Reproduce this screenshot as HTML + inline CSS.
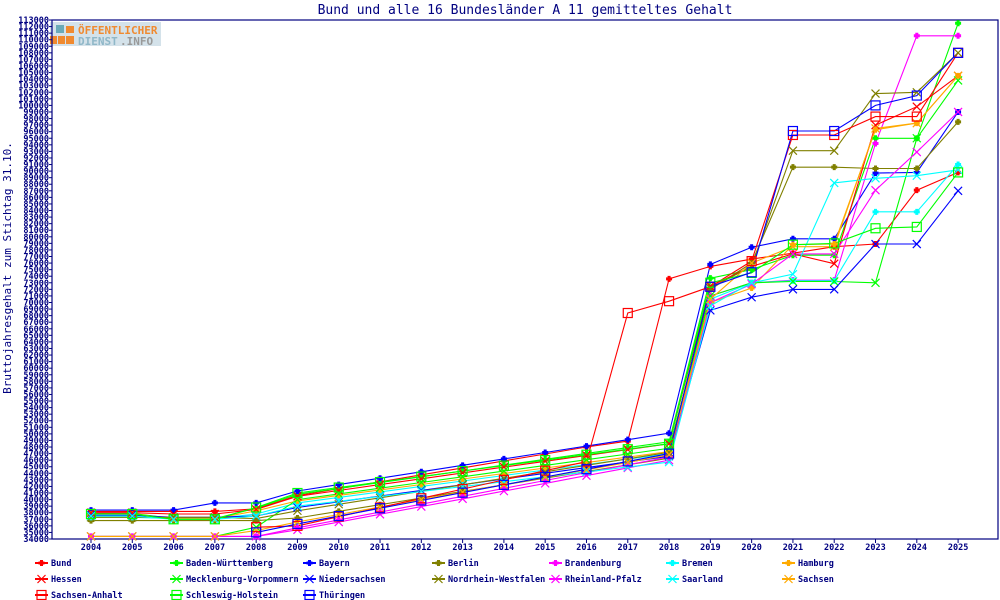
<!DOCTYPE html>
<html><head><meta charset="utf-8">
<style>
html,body{margin:0;padding:0;background:#fff;}
svg{display:block;}
text{font-family:"DejaVu Sans Mono","Liberation Mono",monospace;}
</style></head>
<body>
<svg id="c" width="1000" height="600" xmlns="http://www.w3.org/2000/svg"></svg>
<script>
const S=document.getElementById('c');
const NS='http://www.w3.org/2000/svg';
function el(t,a,txt){const e=document.createElementNS(NS,t);for(const k in a)e.setAttribute(k,a[k]);if(txt!==undefined)e.textContent=txt;S.appendChild(e);return e;}
const L=52,T=20,R=998,B=539;
const yv=v=>B-(v-34)*(B-T)/79;
const xv=i=>91+i*41.29;
// logo
el('rect',{x:50,y:22,width:111,height:24,fill:'#d4e2ea'});
el('rect',{x:56,y:25,width:8,height:8,fill:'#6aaab8'});
el('rect',{x:66,y:26,width:8,height:7,fill:'#f08a30'});
el('rect',{x:50,y:36,width:7,height:8,fill:'#f08a30'});
el('rect',{x:58,y:36,width:7,height:8,fill:'#f08a30'});
el('rect',{x:66,y:36,width:8,height:8,fill:'#f08a30'});
el('text',{x:78,y:34,'font-family':'Liberation Sans, sans-serif','font-weight':'bold','font-size':'11',fill:'#f08a30'},'ÖFFENTLICHER');
el('text',{x:78,y:45,'font-family':'Liberation Sans, sans-serif','font-weight':'bold','font-size':'11',fill:'#8fb7c8'},'DIENST');
el('text',{x:120,y:45,'font-family':'Liberation Sans, sans-serif','font-weight':'bold','font-size':'11',fill:'#999'},'.INFO');
// title
el('text',{x:525,y:14,'font-size':'13','text-anchor':'middle',fill:'#000080'},'Bund und alle 16 Bundesländer A 11 gemitteltes Gehalt');
el('text',{x:0,y:0,'font-size':'11','text-anchor':'middle',fill:'#000080',transform:'translate(11,268) rotate(-90)'},'Bruttojahresgehalt zum Stichtag 31.10.');
// axes
el('rect',{x:L,y:T,width:R-L,height:B-T,fill:'none',stroke:'#000080','stroke-width':1.2});
for(let v=34;v<=113;v++){const y=yv(v);
 el('line',{x1:L-3,y1:y,x2:L,y2:y,stroke:'#000080'});
 el('text',{x:49,y:y+3,'font-size':'8.5','font-weight':'bold','text-anchor':'end',fill:'#000080'},(v*1000)+'');}
for(let i=0;i<22;i++){const x=xv(i);el('line',{x1:x,y1:B,x2:x,y2:B+4,stroke:'#000080'});
 el('text',{x:x,y:550,'font-size':'8.5','font-weight':'bold','text-anchor':'middle',fill:'#000080'},(2004+i)+'');}
function mk(e,a,b,c,d){const o=[...e];const n=8;for(let i=0;i<n;i++)o.push(a+(b-a)*i/(n-1));o.push(c,d);return o;}
function ser(e,a09,a18,late){const o=[...e];for(let i=0;i<10;i++)o.push(a09+(a18-a09)*i/9);return o.concat(late);}
const D=[
['Bund','#ff0000','f',mk([38.2,38.2,38.2,38.2,38.6],40.6,48.0,48.9,73.6).concat([75.5,76.6,77.5,78.5,78.9,87.1,89.8])],
['Baden-Württemberg','#00ff00','f',ser([37.9,37.9,37.1,37.1,38.7],40.8,48.8,[73.7,75,77.2,77.2,95,95,112.5])],
['Bayern','#0000ff','f',ser([38.4,38.4,38.4,39.5,39.5],41.3,50.1,[75.8,78.4,79.7,79.7,89.7,89.8,99])],
['Berlin','#808000','f',ser([36.8,36.8,36.8,36.8,36.8],37.2,46.3,[72,76,90.6,90.6,90.4,90.4,97.5])],
['Brandenburg','#ff00ff','f',ser([34.4,34.4,34.4,34.4,34.4],35.7,46.5,[71,73,73.4,73.4,94.2,110.6,110.6])],
['Bremen','#00ffff','f',ser([37.3,37.3,37.1,37.1,37.8],39.5,47,[70.5,73,73.3,73.3,83.8,83.8,91])],
['Hamburg','#ffaa00','f',ser([37.8,37.8,37.1,37.1,38.3],39.8,47.3,[70,72.2,78.8,78.9,96.3,97.3,104.5])],
['Hessen','#ff0000','x',ser([38,38,37.8,37.8,38.5],40.5,48.5,[72.5,75.5,77.4,75.9,97,99.8,104.5])],
['Mecklenburg-Vorpommern','#00ff00','x',ser([34.4,34.4,34.4,34.4,35.8],40,47.8,[71,73,73.2,73.2,73,95,103.8])],
['Niedersachsen','#0000ff','x',ser([37.6,37.6,37.3,37.3,37.5],38.8,46.6,[68.8,70.8,72,72,78.9,78.9,87])],
['Nordrhein-Westfalen','#808000','x',ser([37.3,37.3,37.3,37.3,37.1],38.3,47.2,[72.2,75.5,93.1,93.1,101.8,102,108])],
['Rheinland-Pfalz','#ff00ff','x',ser([34.4,34.4,34.4,34.4,34.4],35.4,46,[70,72.8,77.4,77.4,87.1,92.9,99])],
['Saarland','#00ffff','x',ser([37.5,37.5,37,37,37.5],39,45.7,[69.5,73,74.3,88.2,88.9,89.3,90.2])],
['Sachsen','#ffaa00','x',ser([34.4,34.4,34.4,34.4,35.3],36.6,46.8,[70.5,76,78.5,78.5,96.5,97.3,104.5])],
['Sachsen-Anhalt','#ff0000','s',[null,null,null,null,35.8,36,37.4,38.8,40.2,41.6,43,44.4,45.8,68.4,70.2,72.4,76.3,95.5,95.5,98.3,98.3,108]],
['Schleswig-Holstein','#00ff00','s',ser([37.8,37.8,37,37,38.8],41,48.5,[73,74.5,78.8,79,81.3,81.5,89.8])],
['Thüringen','#0000ff','s',ser([null,null,null,null,35],36.3,47,[72.4,74.6,96.1,96.1,100,101.5,108])]
];
function marker(t,c,x,y){
 if(t=='f'){el('path',{d:`M${x-3} ${y-1.5}h1.5v-1.5h3v1.5h1.5v3h-1.5v1.5h-3v-1.5h-1.5z`,fill:c});}
 else if(t=='x'){el('path',{d:`M${x-4} ${y-4}L${x+4} ${y+4}M${x-4} ${y+4}L${x+4} ${y-4}`,stroke:c,'stroke-width':1.2,fill:'none'});}
 else el('rect',{x:x-4.5,y:y-4.5,width:9,height:9,fill:'none',stroke:c,'stroke-width':1.2});
}
D.forEach(s=>{let p='';s[3].forEach((v,i)=>{if(v==null)return;p+=(p?'L':'M')+xv(i).toFixed(1)+' '+yv(v).toFixed(1);});
 el('path',{d:p,fill:'none',stroke:s[1],'stroke-width':1.1});});
D.forEach(s=>{s[3].forEach((v,i)=>{if(v!=null)marker(s[2],s[1],xv(i),yv(v));});});
// legend
const cx=[35,170,303,432,549,666,782];
D.forEach((s,k)=>{const col=k%7,row=Math.floor(k/7);const x=cx[col],y=563+row*16;
 el('line',{x1:x,y1:y,x2:x+13,y2:y,stroke:s[1],'stroke-width':2});
 marker(s[2],s[1],x+6.5,y);
 el('text',{x:x+16,y:y+3,'font-size':'8.5','font-weight':'bold',fill:'#000080'},s[0]);});
</script>
</body></html>
